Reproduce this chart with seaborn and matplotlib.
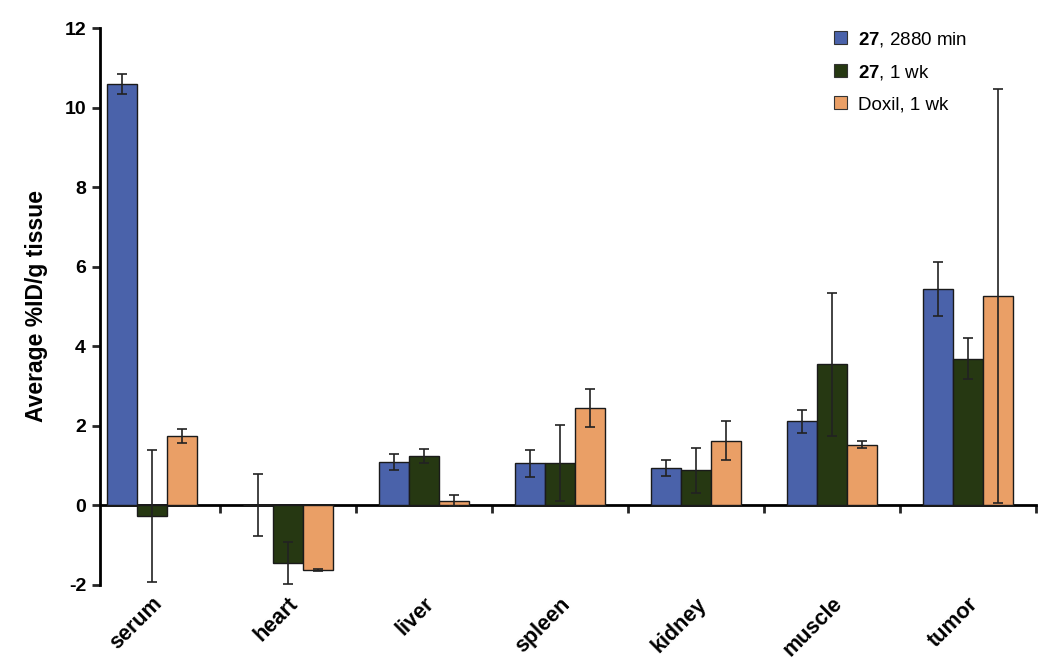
import matplotlib
matplotlib.use("Agg")
import matplotlib.pyplot as plt
import seaborn as sns
import pandas as pd
import numpy as np

# ---- data ----
tissues = ["serum", "heart", "liver", "spleen", "kidney", "muscle", "tumor"]
series_labels = [r"$\mathbf{27}$, 2880 min", r"$\mathbf{27}$, 1 wk", "Doxil, 1 wk"]
vals_27_2880 = [10.60, 0.02, 1.08, 1.06, 0.95, 2.12, 5.45]
err_27_2880 = [0.25, 0.78, 0.20, 0.34, 0.20, 0.29, 0.68]
vals_27_1wk = [-0.27, -1.45, 1.25, 1.06, 0.88, 3.55, 3.69]
err_27_1wk = [1.66, 0.52, 0.18, 0.95, 0.57, 1.80, 0.51]
vals_doxil = [1.75, -1.62, 0.12, 2.44, 1.63, 1.53, 5.27]
err_doxil = [0.18, 0.02, 0.13, 0.48, 0.48, 0.09, 5.20]
colors = ["#4A62AA", "#263812", "#EA9F66"]

values = [vals_27_2880, vals_27_1wk, vals_doxil]
errors = [err_27_2880, err_27_1wk, err_doxil]

rows = []
for s, v in zip(series_labels, values):
    for t, val in zip(tissues, v):
        rows.append({"tissue": t, "series": s, "value": val})
df = pd.DataFrame(rows)

sns.set_style("white")
plt.rcParams["font.family"] = ["Liberation Sans", "DejaVu Sans"]
plt.rcParams["mathtext.fontset"] = "custom"
plt.rcParams["mathtext.rm"] = "Liberation Sans"
plt.rcParams["mathtext.bf"] = "Liberation Sans:bold"
plt.rcParams["axes.unicode_minus"] = False
plt.rcParams["text.color"] = "black"

fig = plt.figure(figsize=(10.5, 6.7), dpi=100)
ax = fig.add_axes([0.0952, 0.1269, 0.8914, 0.8313])

sns.barplot(data=df, x="tissue", y="value", hue="series", order=tissues,
            hue_order=series_labels, palette=colors, width=0.66,
            edgecolor="#1a1a1a", linewidth=1.0, errorbar=None, ax=ax,
            saturation=1)

for cont, err in zip(ax.containers, errors):
    xs = [b.get_x() + b.get_width() / 2 for b in cont]
    ys = [b.get_y() + b.get_height() for b in cont]
    ax.errorbar(xs, ys, yerr=err, fmt="none", ecolor="#222222",
                elinewidth=1.2, capsize=3.5, capthick=1.2, zorder=5)

ax.set_ylim(-2, 12)
ax.set_xlim(-0.38, 6.5)
ax.set_yticks(np.arange(-2, 13, 2))
ax.tick_params(axis="y", direction="out", length=6, width=2, left=True,
               labelsize=14, pad=4, labelcolor="black")
for lab in ax.get_yticklabels():
    lab.set_fontweight("bold")

# x labels at the bottom, rotated
ax.set_xticks(range(len(tissues)))
ax.set_xticklabels(tissues, rotation=45, ha="right", rotation_mode="anchor",
                   fontsize=15.5, fontweight="bold", color="black")
ax.tick_params(axis="x", length=0, pad=6)
ax.set_xlabel("")
ax.set_ylabel("Average %ID/g tissue", fontsize=16.5, fontweight="bold",
              labelpad=12, color="black")

for sp in ["top", "right", "bottom"]:
    ax.spines[sp].set_visible(False)
ax.spines["left"].set_linewidth(2)
ax.spines["left"].set_color("black")

# zero axis with boundary ticks
sec = ax.secondary_xaxis(0, transform=ax.transData)
sec.set_xticks(np.arange(0.5, len(tissues), 1.0))
sec.set_xticklabels([])
sec.tick_params(axis="x", direction="out", length=6, width=2)
sec.spines["bottom"].set_linewidth(2)
sec.spines["bottom"].set_color("black")

leg = ax.legend(loc="upper left", bbox_to_anchor=(0.766, 1.027), frameon=False,
                fontsize=13.5, handlelength=0.7, handleheight=0.7,
                handletextpad=0.6, labelspacing=0.75)
for h in leg.legend_handles:
    h.set_edgecolor("#333333")
    h.set_linewidth(0.8)
for t in leg.get_texts():
    t.set_color("black")

fig.savefig("out.png", dpi=100, facecolor="white")
